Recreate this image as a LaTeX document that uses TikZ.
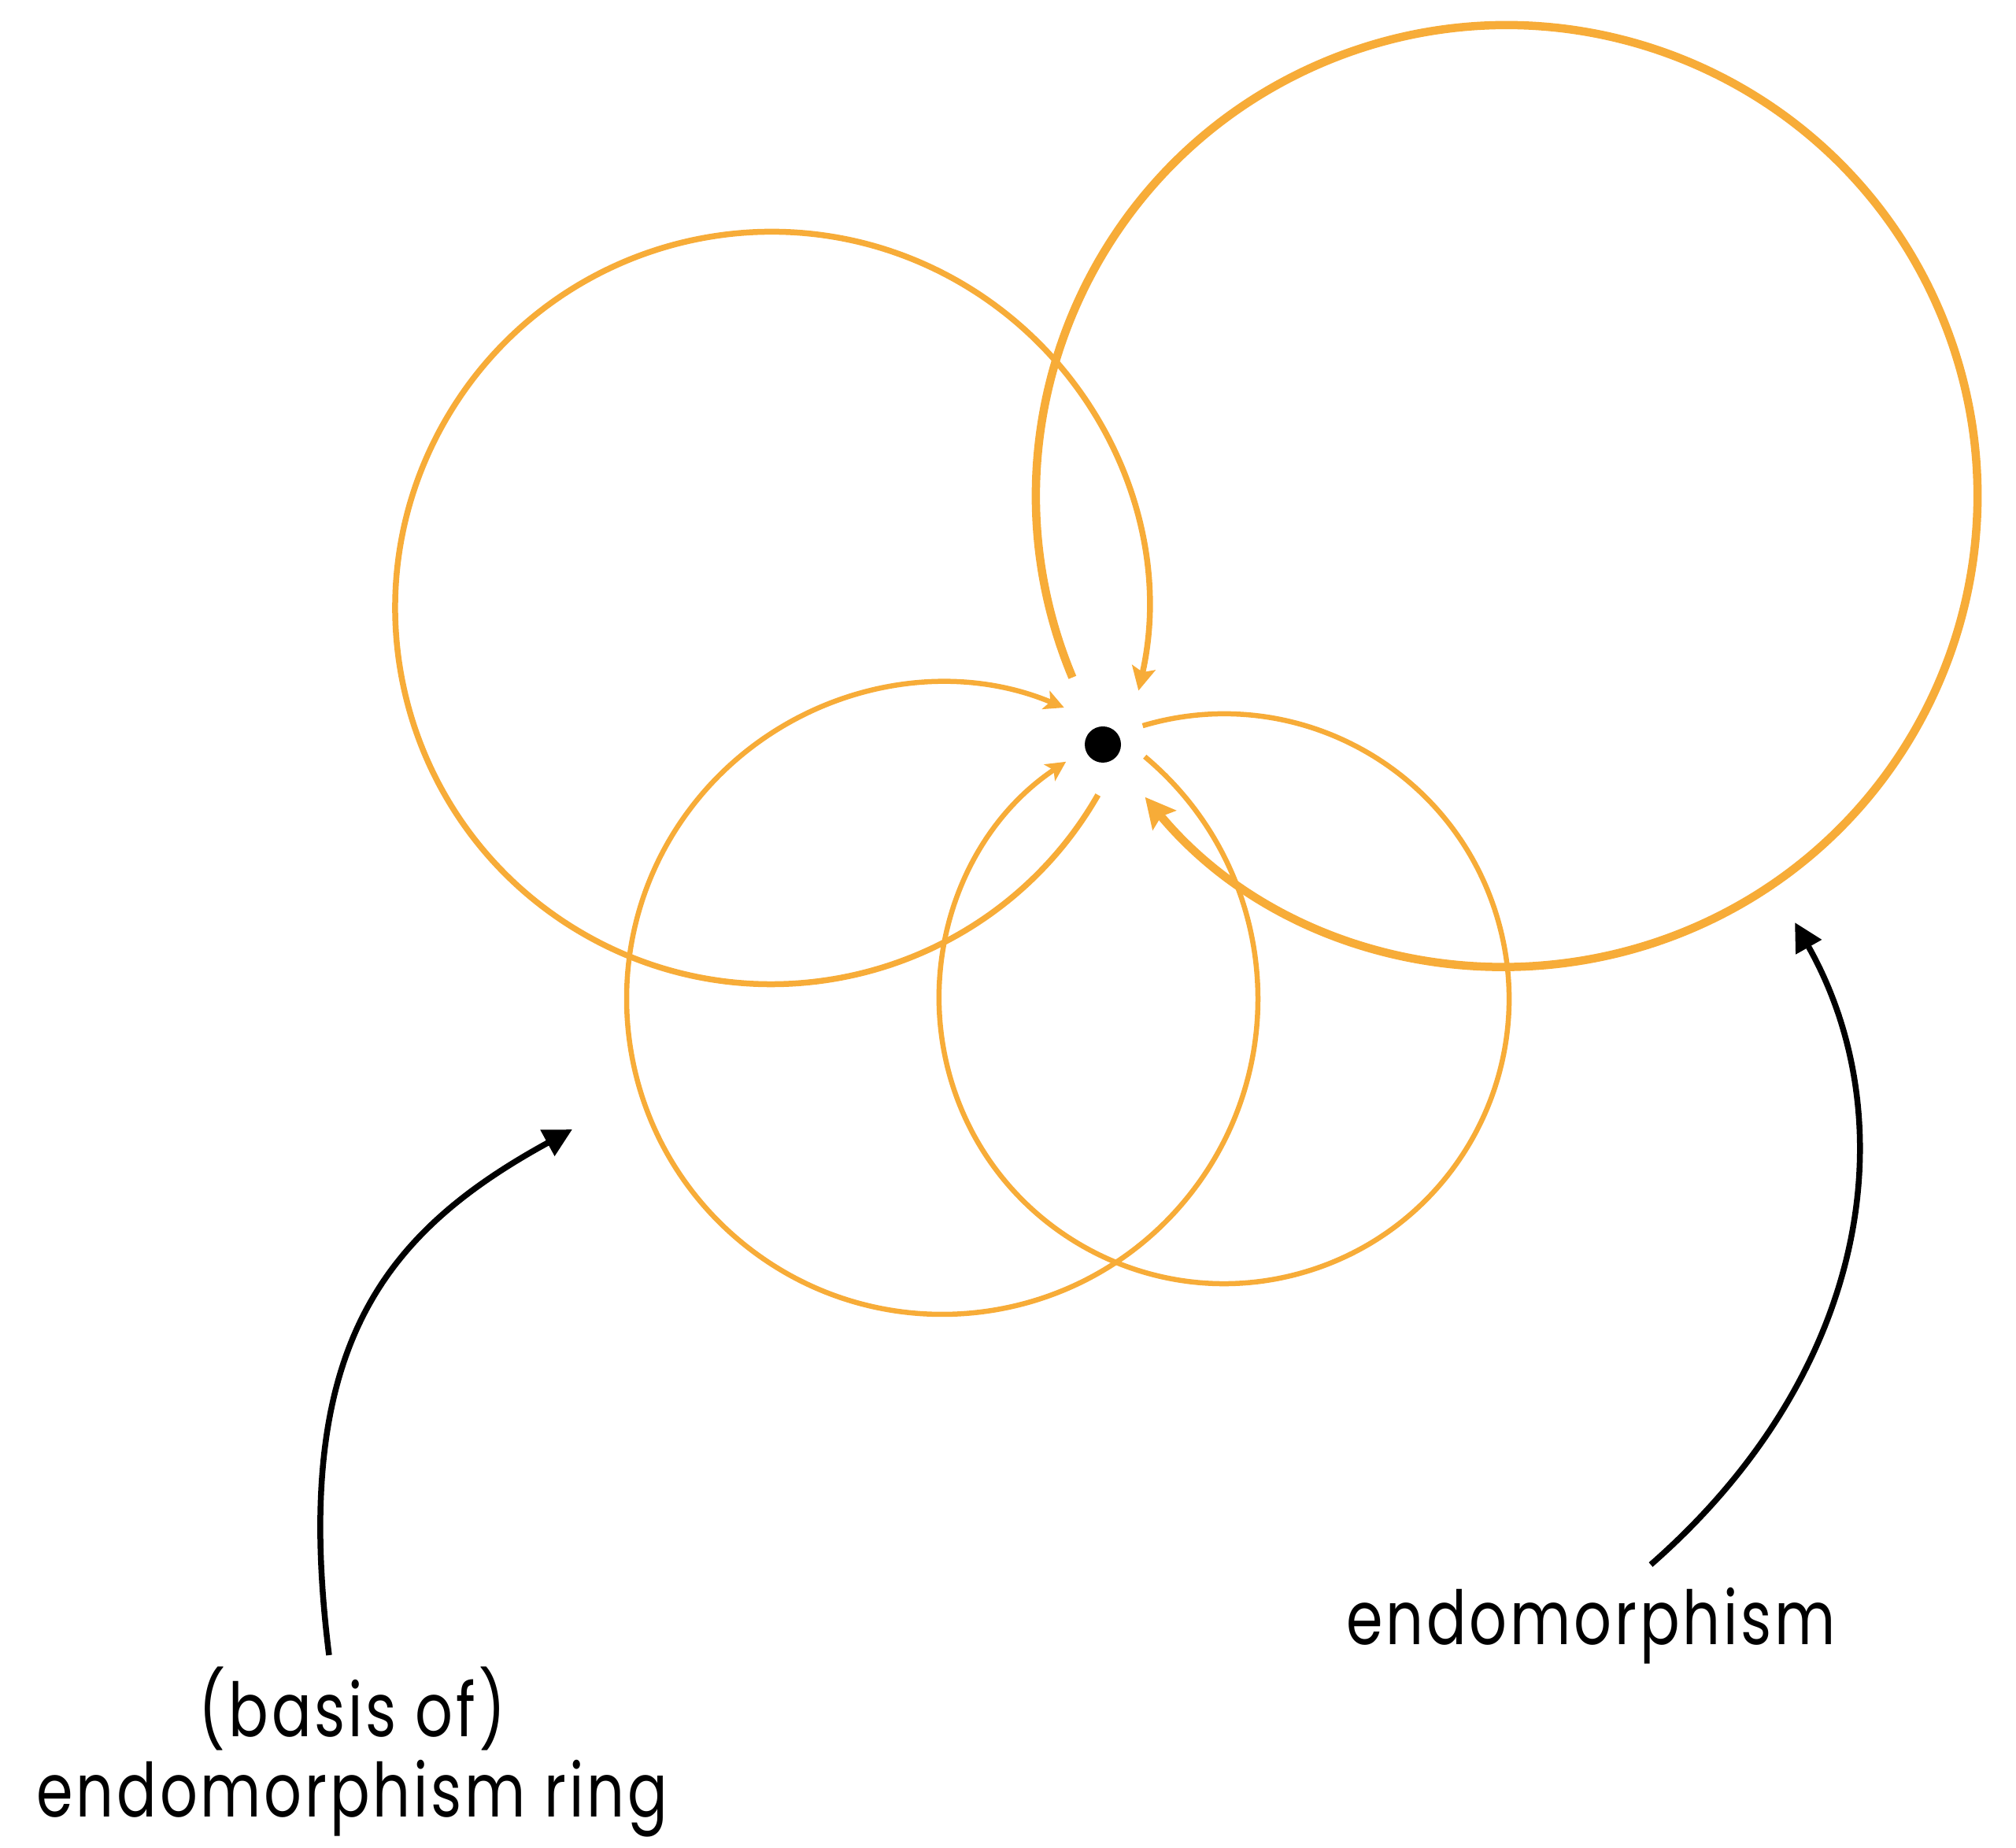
\documentclass[tikz,border=0pt]{standalone}
\usepackage{fontspec}
\setmainfont{Poppins}[FakeStretch=0.79, LetterSpace=4]
\usetikzlibrary{arrows.meta}
\definecolor{loopor}{RGB}{247,172,56}
\tikzset{
    looparc/.style={draw=loopor, line width=#1, line cap=butt},
    looparc/.default=0.07cm,
    looptip/.style={-{Stealth[length=#1, width=#1, inset=0.06cm]}},
    pointer/.style={-{Triangle[length=0.36cm, width=0.36cm]}, line width=0.075cm},
    label/.style={font=\fontsize{27pt}{29.3pt}\selectfont, inner sep=0pt, align=center}
}

\begin{document}
\begin{tikzpicture}
\useasboundingbox (0,0) rectangle (25.61,23.48);

% base point and the centres of the four loops
\node[circle, fill=black, inner sep=0pt, minimum size=0.46cm] (pt) at (14.01,14.02) {};
\coordinate (ca) at (9.80,15.755);
\coordinate (cb) at (19.14,17.18);
\coordinate (cc) at (11.97,10.79);
\coordinate (cd) at (15.55,10.79);

% loops, all run clockwise back into the point
\draw[looparc=0.075cm, looptip=0.3cm] (ca) ++(-29.8:4.78) arc[start angle=-29.8, end angle=-372.7, radius=4.78];
\draw[looparc=0.105cm, looptip=0.38cm] (cb) ++(202.7:5.98) arc[start angle=202.7, end angle=-140.2, radius=5.98];
\draw[looparc=0.065cm, looptip=0.25cm] (cc) ++(50.1:4.01) arc[start angle=50.1, end angle=-292.7, radius=4.01];
\draw[looparc=0.065cm, looptip=0.25cm] (cd) ++(106.6:3.62) arc[start angle=106.6, end angle=-236.3, radius=3.62];

% labels (base sits on the last line)
\node[label, anchor=base] (ringlabel) at (4.475,0.39) {(basis of)\\endomorphism ring};
\node[label, anchor=base] (endolabel) at (20.21,2.58) {endomorphism};
\coordinate (ringtip) at (7.27,9.13);
\coordinate (endotip) at (22.80,11.76);

\draw[pointer] ([xshift=-0.295cm, yshift=2.06cm]ringlabel.base) .. controls (3.70,6.28) and (4.80,7.78) .. (ringtip);
\draw[pointer] ([xshift=0.76cm, yshift=1.02cm]endolabel.base) .. controls (23.80,6.08) and (24.20,9.28) .. (endotip);
\end{tikzpicture}
\end{document}
